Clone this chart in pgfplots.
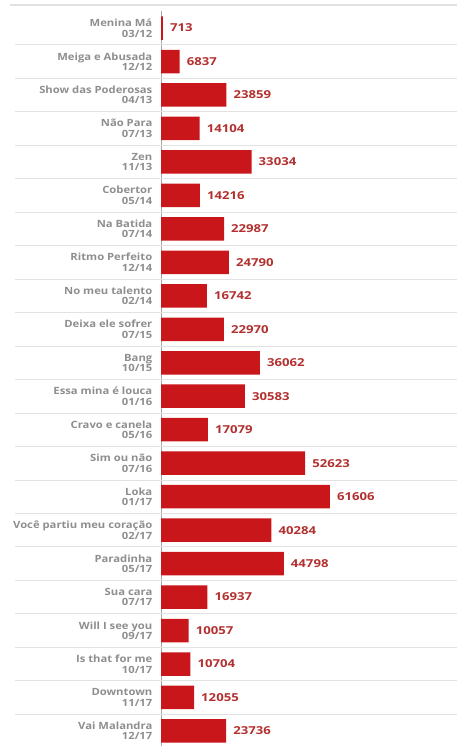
\documentclass[border=0pt]{standalone}
\usepackage{pgfplots}
\pgfplotsset{compat=1.18}
\usepackage{fontspec}
\setmainfont{Open Sans}
\newfontfamily\labfont[FakeStretch=1.13]{Open Sans}
\newfontfamily\valfont[FakeStretch=1.2]{Open Sans}
\definecolor{barred}{HTML}{C8161B}
\definecolor{valred}{HTML}{B2302F}
\definecolor{labgray}{HTML}{8E8E8E}
\definecolor{sepgray}{HTML}{E2E2E2}
\begin{document}
\begin{tikzpicture}
\useasboundingbox (0,0) rectangle (457bp,746bp);
\draw[sepgray, line width=2pt] (10bp,741bp) -- (457bp,741bp);
\begin{axis}[
  at={(161bp,-1.7bp)}, anchor=south west,
  scale only axis, width=296bp, height=736.4bp,
  xmin=0, xmax=108000, ymin=0.5, ymax=22.5, y dir=reverse,
  xbar, bar width=23.5bp,
  axis x line=none, axis y line=left,
  y axis line style={draw=gray!70, -},
  ytick={1,...,22}, major tick length=0pt,
  yticklabels={{Menina Má\\03/12},{Meiga e Abusada\\12/12},{Show das Poderosas\\04/13},{Não Para\\07/13},{Zen\\11/13},{Cobertor\\05/14},{Na Batida\\07/14},{Ritmo Perfeito\\12/14},{No meu talento\\02/14},{Deixa ele sofrer\\07/15},{Bang\\10/15},{Essa mina é louca\\01/16},{Cravo e canela\\05/16},{Sim ou não\\07/16},{Loka\\01/17},{Você partiu meu coração\\02/17},{Paradinha\\05/17},{Sua cara\\07/17},{Will I see you\\09/17},{Is that for me\\10/17},{Downtown\\11/17},{Vai Malandra\\12/17}},
  yticklabel style={align=right, font=\labfont\fontsize{10}{10.5}\selectfont\bfseries, text=labgray, inner sep=0pt, xshift=-8.5bp},
  nodes near coords={\pgfmathprintnumber[1000 sep={},assume math mode=true]{\pgfplotspointmeta}},
  nodes near coords style={font=\valfont\fontsize{11}{13}\selectfont\bfseries, text=valred, anchor=west, inner sep=0pt, xshift=7bp},
  clip=false,
]
\pgfplotsinvokeforeach{1.5,2.5,...,21.5}{
  \draw[sepgray, line width=0.8pt] ([xshift=-146bp]axis cs:0,#1) -- (axis cs:108000,#1);
}
\addplot[fill=barred, draw=none] coordinates {
(713,1) (6837,2) (23859,3) (14104,4) (33034,5) (14216,6) (22987,7) (24790,8) (16742,9) (22970,10) (36062,11) (30583,12) (17079,13) (52623,14) (61606,15) (40284,16) (44798,17) (16937,18) (10057,19) (10704,20) (12055,21) (23736,22)
};
\end{axis}
\end{tikzpicture}
\end{document}
